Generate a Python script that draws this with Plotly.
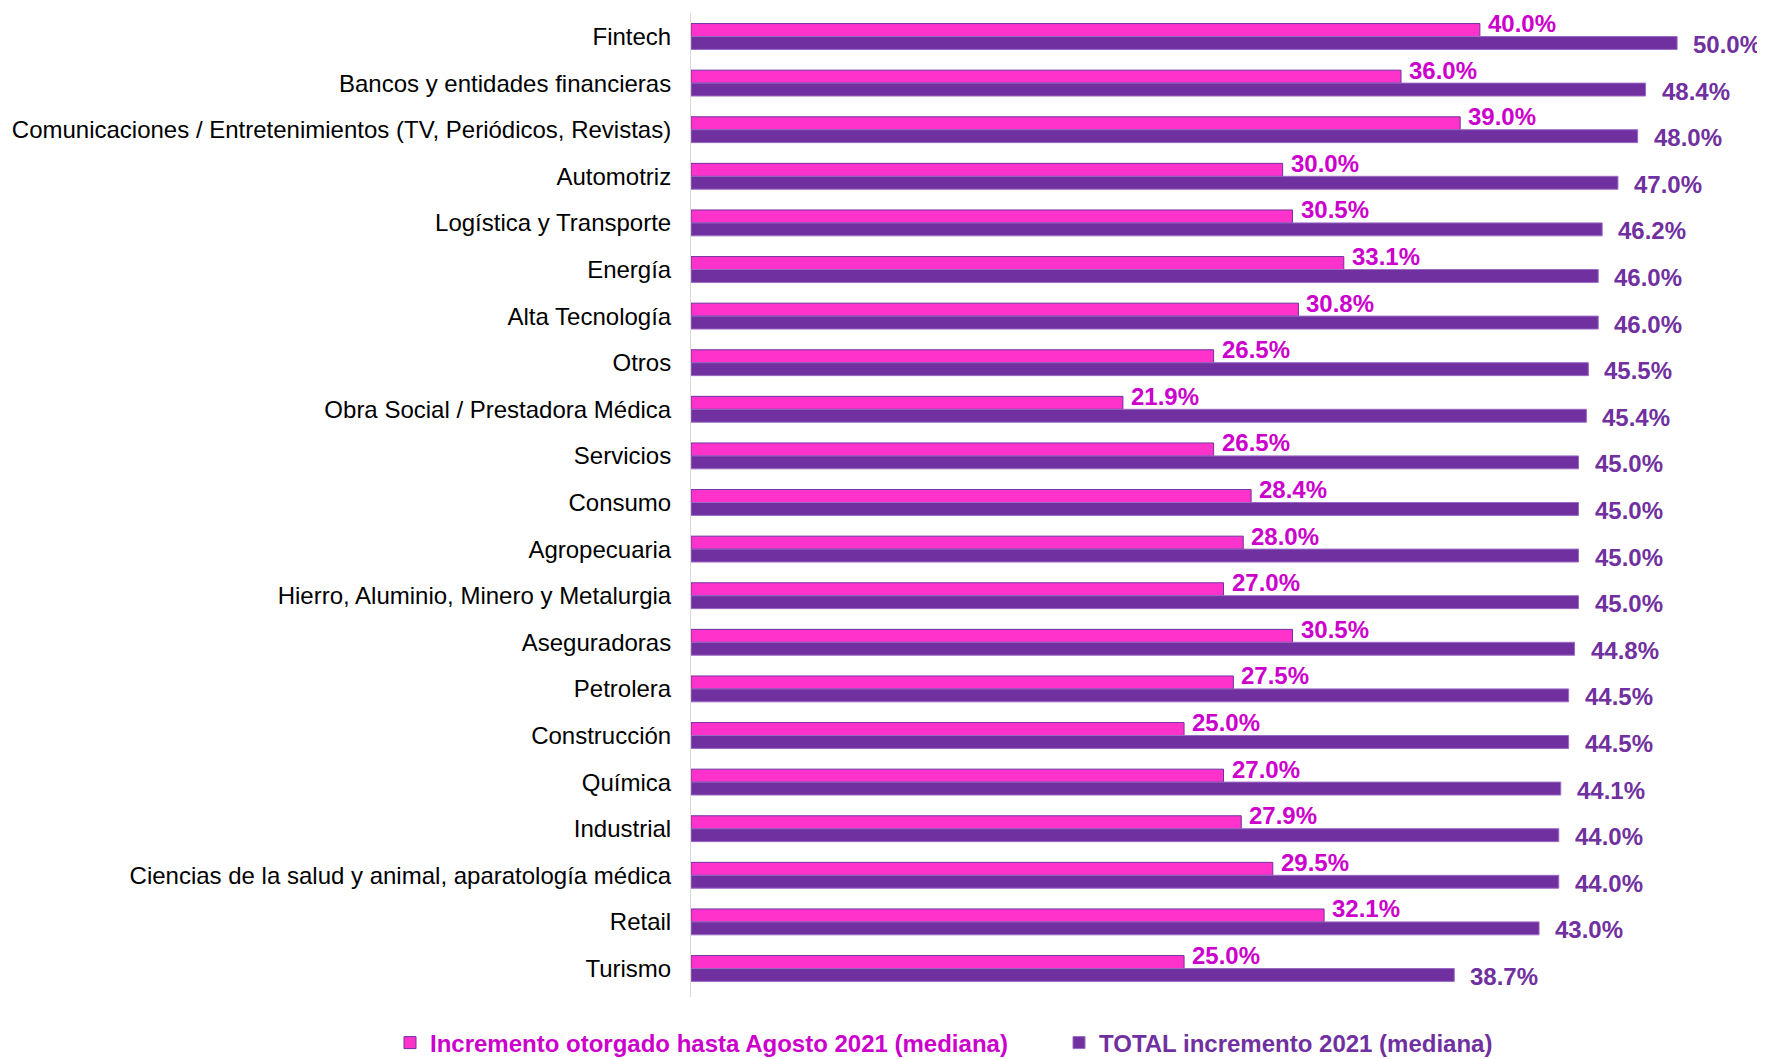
import plotly.graph_objects as go

categories = [
    "Fintech", "Bancos y entidades financieras",
    "Comunicaciones / Entretenimientos (TV, Periódicos, Revistas)",
    "Automotriz", "Logística y Transporte", "Energía", "Alta Tecnología",
    "Otros", "Obra Social / Prestadora Médica", "Servicios", "Consumo",
    "Agropecuaria", "Hierro, Aluminio, Minero y Metalurgia", "Aseguradoras",
    "Petrolera", "Construcción", "Química", "Industrial",
    "Ciencias de la salud y animal, aparatología médica", "Retail", "Turismo",
]
agosto = [40.0, 36.0, 39.0, 30.0, 30.5, 33.1, 30.8, 26.5, 21.9, 26.5, 28.4,
          28.0, 27.0, 30.5, 27.5, 25.0, 27.0, 27.9, 29.5, 32.1, 25.0]
total = [50.0, 48.4, 48.0, 47.0, 46.2, 46.0, 46.0, 45.5, 45.4, 45.0, 45.0,
         45.0, 45.0, 44.8, 44.5, 44.5, 44.1, 44.0, 44.0, 43.0, 38.7]
name_agosto = "Incremento otorgado hasta Agosto 2021 (mediana)"
name_total = "TOTAL incremento 2021 (mediana)"

PINK = "#FF33CC"
PINK_TXT = "#CC00CC"
PURPLE = "#7030A0"
FONT = "Liberation Sans, Arial, sans-serif"

W, H = 1757, 1051  # page body has an 8px margin

fig = go.Figure()
fig.add_trace(go.Bar(
    y=categories, x=agosto, orientation="h", name=name_agosto,
    marker=dict(color=PINK, line=dict(color=PURPLE, width=1)),
    legend="legend",
))
fig.add_trace(go.Bar(
    y=categories, x=total, orientation="h", name=name_total,
    marker=dict(color=PURPLE, line=dict(color="#9B6BC4", width=1)),
    legend="legend2",
))

annotations = []
for c, v in zip(categories, agosto):
    annotations.append(dict(
        x=v, y=c, xref="x", yref="y", text=f"{v:.1f}%", showarrow=False,
        xanchor="left", yanchor="middle", xshift=6, yshift=13,
        font=dict(family=FONT, size=24, color=PINK_TXT, weight="bold"),
    ))
for c, v in zip(categories, total):
    annotations.append(dict(
        x=v, y=c, xref="x", yref="y", text=f"{v:.1f}%", showarrow=False,
        xanchor="left", yanchor="middle", xshift=14, yshift=-8,
        font=dict(family=FONT, size=24, color=PURPLE, weight="bold"),
    ))

legend_common = dict(
    orientation="h", xref="container", yref="container",
    yanchor="middle", xanchor="left", itemwidth=30,
    bgcolor="rgba(0,0,0,0)", borderwidth=0,
)

fig.update_layout(
    width=W, height=H,
    margin=dict(l=683, r=9, t=5, b=62, autoexpand=False),
    paper_bgcolor="white", plot_bgcolor="white",
    barmode="group", bargap=0.445, bargroupgap=0,
    font=dict(family=FONT, color="black"),
    annotations=annotations,
    showlegend=True,
    legend=dict(x=382 / W, y=16 / H,
                font=dict(family=FONT, size=24, weight="bold", color=PINK_TXT),
                **legend_common),
    legend2=dict(x=1051 / W, y=16 / H,
                 font=dict(family=FONT, size=24, weight="bold", color=PURPLE),
                 **legend_common),
    xaxis=dict(range=[0, 54], showgrid=False, showticklabels=False,
               zeroline=False, showline=False, ticks=""),
    yaxis=dict(autorange="reversed", showline=True, linecolor="#D9D9D9",
               linewidth=1, showgrid=False, ticks="", ticklabelstandoff=14,
               tickfont=dict(family=FONT, size=24, color="black"),
               automargin=False),
)

fig.write_html("out.html")
